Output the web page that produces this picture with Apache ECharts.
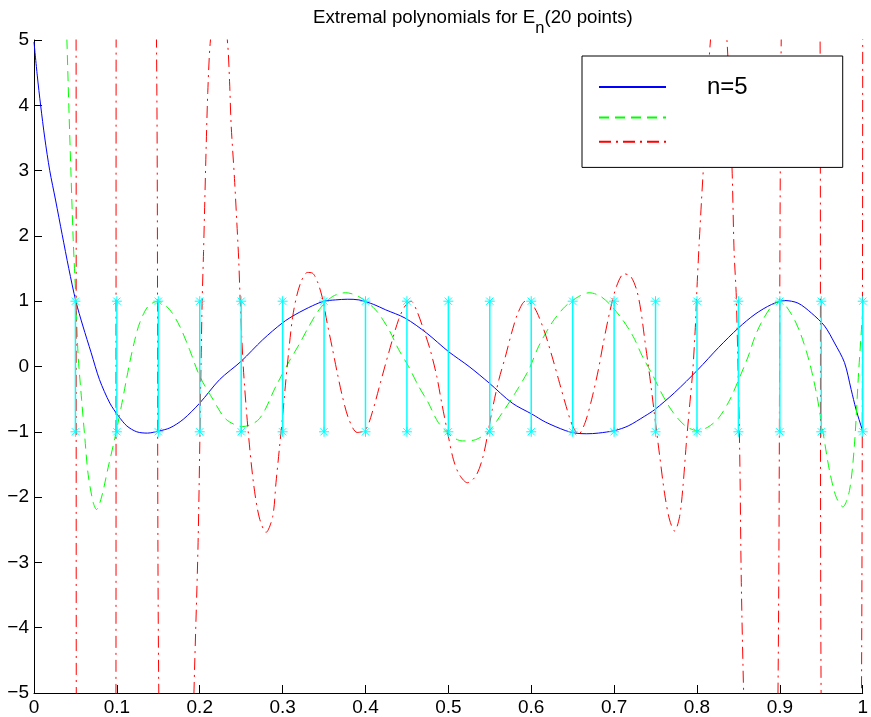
<!DOCTYPE html>
<html>
<head>
<meta charset="utf-8">
<script src="https://cdn.jsdelivr.net/npm/echarts@6/dist/echarts.min.js"></script>
<style>
  html, body { margin: 0; padding: 0; background: #ffffff; }
  #chart { width: 871px; height: 717px; }
</style>
</head>
<body>
<div id="chart"></div>
<script>
// Axis ticks and their labels
const xTicks = [0, 0.1, 0.2, 0.3, 0.4, 0.5, 0.6, 0.7, 0.8, 0.9, 1];
const xTickLabels = ['0', '0.1', '0.2', '0.3', '0.4', '0.5', '0.6', '0.7', '0.8', '0.9', '1'];
const yTicks = [-5, -4, -3, -2, -1, 0, 1, 2, 3, 4, 5];
const yTickLabels = ['\u22125', '\u22124', '\u22123', '\u22122', '\u22121', '0', '1', '2', '3', '4', '5'];

// The 20 sample points and the [-1, 1] band drawn at each of them
const nodeX = [0.05, 0.10, 0.15, 0.20, 0.25, 0.30, 0.35, 0.40, 0.45, 0.50,
               0.55, 0.60, 0.65, 0.70, 0.75, 0.80, 0.85, 0.90, 0.95, 1.00];
const nodeLow = [-1, -1, -1, -1, -1, -1, -1, -1, -1, -1, -1, -1, -1, -1, -1, -1, -1, -1, -1, -1];
const nodeHigh = [1, 1, 1, 1, 1, 1, 1, 1, 1, 1, 1, 1, 1, 1, 1, 1, 1, 1, 1, 1];

// Series names (only the first is labelled in the legend)
const seriesNames = ['n=5', 'n=10', 'n=19'];

// Solid blue curve
const blueX = [0, 0.004, 0.008, 0.013, 0.019, 0.026, 0.034, 0.042, 0.0505, 0.059, 0.069, 0.079,
  0.0915, 0.102, 0.112, 0.124, 0.137, 0.15, 0.164, 0.18, 0.2, 0.224, 0.25, 0.276, 0.3, 0.316,
  0.336, 0.35, 0.364, 0.378, 0.392, 0.41, 0.424, 0.448, 0.474, 0.5, 0.525, 0.549, 0.577, 0.601,
  0.617, 0.641, 0.653, 0.667, 0.681, 0.701, 0.717, 0.737, 0.749, 0.773, 0.801, 0.826, 0.85,
  0.87, 0.89, 0.906, 0.922, 0.938, 0.954, 0.966, 0.978, 0.986, 0.992, 1.0];
const blueY = [4.97, 4.45, 4.0, 3.5, 3.0, 2.55, 2.02, 1.5, 1.0, 0.62, 0.21, -0.2,
  -0.56, -0.76, -0.91, -1.0, -1.02, -0.99, -0.94, -0.81, -0.56, -0.2, 0.08, 0.41, 0.67, 0.8,
  0.93, 1.0, 1.02, 1.03, 1.02, 0.95, 0.87, 0.74, 0.51, 0.23, 0.0, -0.25, -0.56, -0.73,
  -0.85, -0.98, -1.02, -1.03, -1.02, -0.98, -0.91, -0.76, -0.66, -0.4, -0.05, 0.29, 0.59,
  0.8, 0.95, 1.01, 0.97, 0.82, 0.62, 0.36, 0.06, -0.35, -0.66, -0.99];

// Dashed green curve
const greenX = [0.0, 0.025, 0.0397, 0.042, 0.0445, 0.0473, 0.0493, 0.0513, 0.0533, 0.0574, 0.0614,
  0.0653, 0.0714, 0.0754, 0.0815, 0.0894, 0.0975, 0.1055, 0.1115, 0.1155, 0.1215, 0.1276, 0.1376,
  0.1496, 0.1637, 0.1757, 0.1877, 0.2, 0.2158, 0.2319, 0.2519, 0.272, 0.292, 0.308, 0.32, 0.332,
  0.344, 0.36, 0.376, 0.392, 0.412, 0.428, 0.44, 0.452, 0.464, 0.476, 0.488, 0.504, 0.517, 0.533,
  0.549, 0.565, 0.581, 0.597, 0.609, 0.625, 0.641, 0.657, 0.67, 0.683, 0.695, 0.71, 0.723, 0.734,
  0.746, 0.759, 0.771, 0.786, 0.8, 0.813, 0.826, 0.84, 0.852, 0.862, 0.87, 0.878, 0.89, 0.9,
  0.914, 0.925, 0.935, 0.944, 0.952, 0.96, 0.968, 0.976, 0.984, 0.99, 0.995, 1.0];
const greenY = [30, 11, 5, 4, 3, 1.94, 1.38, 0.77, 0.16, -0.5, -1.1,
  -1.65, -2.08, -2.19, -2.0, -1.55, -1.1, -0.6, -0.2, 0.06, 0.4, 0.67, 0.92,
  1.0, 0.87, 0.62, 0.26, -0.15, -0.5, -0.81, -0.92, -0.8, -0.3, 0.08, 0.34, 0.62,
  0.87, 1.07, 1.13, 1.07, 0.87, 0.57, 0.26, 0.0, -0.3, -0.56, -0.86, -1.07, -1.14, -1.12,
  -0.99, -0.71, -0.4, -0.05, 0.31, 0.67, 0.92, 1.07, 1.13, 1.08, 0.95, 0.72, 0.46, 0.16,
  -0.12, -0.45, -0.7, -0.91, -0.98, -0.93, -0.79, -0.5, -0.15, 0.16, 0.46, 0.68, 0.92, 1.0,
  0.8, 0.5, 0.1, -0.4, -1.0, -1.6, -2.0, -2.15, -1.9, -1.2, -0.1, 0.85];

// Dash-dot red curve (runs far past the y range between many of the sample points)
const redX = [0.0, 0.03, 0.0507, 0.0511, 0.075, 0.0988, 0.0992, 0.123, 0.1473, 0.1511, 0.172,
  0.1925, 0.198, 0.2015, 0.203, 0.2046, 0.2061, 0.2078, 0.2097, 0.2126, 0.2232, 0.2338, 0.236,
  0.2379, 0.2419, 0.2447, 0.2471, 0.2487, 0.2525, 0.2585, 0.265, 0.272, 0.28, 0.288, 0.292,
  0.296, 0.3, 0.304, 0.308, 0.312, 0.317, 0.323, 0.33, 0.336, 0.342, 0.348, 0.354, 0.36, 0.366,
  0.372, 0.38, 0.39, 0.4, 0.408, 0.418, 0.428, 0.44, 0.448, 0.455, 0.462, 0.47, 0.478, 0.486,
  0.492, 0.5, 0.506, 0.513, 0.523, 0.533, 0.541, 0.547, 0.553, 0.561, 0.569, 0.576, 0.584,
  0.593, 0.603, 0.615, 0.625, 0.633, 0.641, 0.649, 0.657, 0.665, 0.673, 0.681, 0.687, 0.695,
  0.703, 0.712, 0.72, 0.727, 0.732, 0.737, 0.743, 0.749, 0.755, 0.761, 0.767, 0.773, 0.779,
  0.783, 0.787, 0.791, 0.795, 0.798, 0.8, 0.8025, 0.8055, 0.808, 0.8115, 0.8163, 0.8263,
  0.8363, 0.8423, 0.8448, 0.8475, 0.8515, 0.8535, 0.8564, 0.865, 0.877, 0.89, 0.8975, 0.9019,
  0.915, 0.93, 0.945, 0.9485, 0.9499, 0.96, 0.975, 0.99, 0.9983, 1.0];
const redY = [30, 20, 6, -6, -25, -6, 6, 25, 5.6, -5.6, -20,
  -5.3, -2.7, 0, 1.05, 1.76, 2.53, 3.39, 4.2, 4.95, 6.3, 4.92, 4.36,
  3.7, 2.88, 2.22, 1.61, 1.05, 0, -1.0, -1.8, -2.32, -2.54, -2.3, -1.78,
  -1.27, -0.76, -0.2, 0.31, 0.75, 1.08, 1.32, 1.44, 1.43, 1.3, 1.05, 0.65, 0.28, -0.1,
  -0.45, -0.81, -1.01, -0.97, -0.71, -0.25, 0.21, 0.72, 0.93, 1.0, 0.85, 0.57, 0.26, -0.15,
  -0.56, -1.07, -1.42, -1.65, -1.78, -1.68, -1.42, -1.07, -0.66, -0.2, 0.16, 0.5, 0.82,
  1.0, 0.92, 0.57, 0.16, -0.2, -0.56, -0.88, -1.04, -0.86, -0.5, -0.05, 0.36, 0.85,
  1.23, 1.42, 1.38, 1.18, 0.88, 0.41, -0.15, -0.76, -1.37, -1.95, -2.35, -2.52, -2.3,
  -1.85, -1.2, -0.62, -0.05, 0.6, 1.2, 1.85, 2.55, 3.1, 4.0, 5.0, 6.35,
  4.97, 3.04, 1.76, 1.05, -1.27, -3.31, -5.04, -9, -12, -9, -5.3, 5.3,
  15, 20, 12, 5.3, -5.3, -15, -20, -15, -5.5, 6];

const FONT = 'Liberation Sans, Arial, Helvetica, sans-serif';
const CYAN = '#00ffff';

function pairs(xs, ys) {
  return xs.map((x, i) => [x, ys[i]]);
}
function tickLabel(ticks, labels, v) {
  let best = 0;
  ticks.forEach((t, i) => { if (Math.abs(t - v) < Math.abs(ticks[best] - v)) best = i; });
  return labels[best];
}

// Asterisk marker built from four short strokes
function asterisk(p) {
  const r = 5, d = 3.6;
  const seg = (x1, y1, x2, y2) => ({
    type: 'line',
    shape: { x1: p[0] + x1, y1: p[1] + y1, x2: p[0] + x2, y2: p[1] + y2 },
    style: { stroke: CYAN, lineWidth: 1 }
  });
  return [seg(-r, 0, r, 0), seg(0, -r, 0, r), seg(-d, -d, d, d), seg(-d, d, d, -d)];
}

const chart = echarts.init(document.getElementById('chart'), null, { renderer: 'canvas' });

chart.setOption({
  animation: false,
  backgroundColor: '#ffffff',
  title: {
    text: '{a|Extremal polynomials for E}{b|n}{a|(20 points)}',
    left: 313,
    top: 8,
    padding: 0,
    textStyle: {
      fontWeight: 'normal',
      rich: {
        a: { fontFamily: FONT, fontSize: 18.7, fontWeight: 'normal', color: '#000', verticalAlign: 'top', lineHeight: 18 },
        b: { fontFamily: FONT, fontSize: 16.5, fontWeight: 'normal', color: '#000', verticalAlign: 'top', lineHeight: 17, padding: [12, 0, 0, 0] }
      }
    }
  },
  legend: {
    data: seriesNames,
    orient: 'vertical',
    left: 582,
    top: 56,
    z: 10,
    backgroundColor: '#ffffff',
    borderColor: '#000000',
    borderWidth: 1,
    borderRadius: 0,
    padding: [19, 95, 20, 16],
    itemWidth: 67,
    itemHeight: 14,
    itemGap: 13,
    selectedMode: false,
    itemStyle: { opacity: 0 },
    formatter: (name) => (name === seriesNames[0] ? name : ''),
    textStyle: { fontFamily: FONT, fontSize: 24, color: '#000', lineHeight: 14, padding: [0, 0, 0, 36] }
  },
  grid: { left: 34, right: 6, top: 40, bottom: 23, containLabel: false },
  xAxis: {
    type: 'value',
    min: 0,
    max: 1,
    interval: 0.1,
    axisLine: { show: true, onZero: false, lineStyle: { color: '#000', width: 1 } },
    axisTick: { show: true, inside: true, length: 8, lineStyle: { color: '#000', width: 1 } },
    axisLabel: {
      margin: 5, color: '#000', fontFamily: FONT, fontSize: 19,
      showMinLabel: true, showMaxLabel: true, hideOverlap: false,
      formatter: (v) => tickLabel(xTicks, xTickLabels, v)
    },
    splitLine: { show: false }
  },
  yAxis: {
    type: 'value',
    min: -5,
    max: 5,
    interval: 1,
    axisLine: { show: true, onZero: false, lineStyle: { color: '#000', width: 1 } },
    axisTick: { show: true, inside: true, length: 8, lineStyle: { color: '#000', width: 1 } },
    axisLabel: {
      margin: 5, color: '#000', fontFamily: FONT, fontSize: 19,
      showMinLabel: true, showMaxLabel: true,
      formatter: (v) => tickLabel(yTicks, yTickLabels, v)
    },
    splitLine: { show: false }
  },
  series: [
    {
      name: seriesNames[0],
      type: 'line',
      data: pairs(blueX, blueY),
      symbol: 'none',
      smooth: 0.3,
      clip: true,
      z: 3,
      lineStyle: { color: '#0000ff', width: 1 },
      itemStyle: { color: '#0000ff' }
    },
    {
      name: seriesNames[1],
      type: 'line',
      data: pairs(greenX, greenY),
      symbol: 'none',
      smooth: 0.3,
      clip: true,
      z: 3,
      lineStyle: { color: '#00ff00', width: 1, type: [10, 6] },
      itemStyle: { color: '#00ff00' }
    },
    {
      name: seriesNames[2],
      type: 'line',
      data: pairs(redX, redY),
      symbol: 'none',
      smooth: 0.3,
      clip: true,
      z: 3,
      lineStyle: { color: '#ff0000', width: 1, type: [12, 5, 2, 5] },
      itemStyle: { color: '#ff0000' }
    },
    {
      name: 'nodes',
      type: 'custom',
      data: nodeX.map((x, i) => [x, nodeLow[i], nodeHigh[i]]),
      encode: { x: 0, y: [1, 2] },
      clip: false,
      z: 4,
      renderItem: (params, api) => {
        const lo = api.coord([api.value(0), api.value(1)]);
        const hi = api.coord([api.value(0), api.value(2)]);
        return {
          type: 'group',
          children: [
            { type: 'line', shape: { x1: lo[0], y1: lo[1], x2: hi[0], y2: hi[1] },
              style: { stroke: CYAN, lineWidth: 1.5 } }
          ].concat(asterisk(lo), asterisk(hi))
        };
      }
    }
  ]
});
</script>
</body>
</html>
